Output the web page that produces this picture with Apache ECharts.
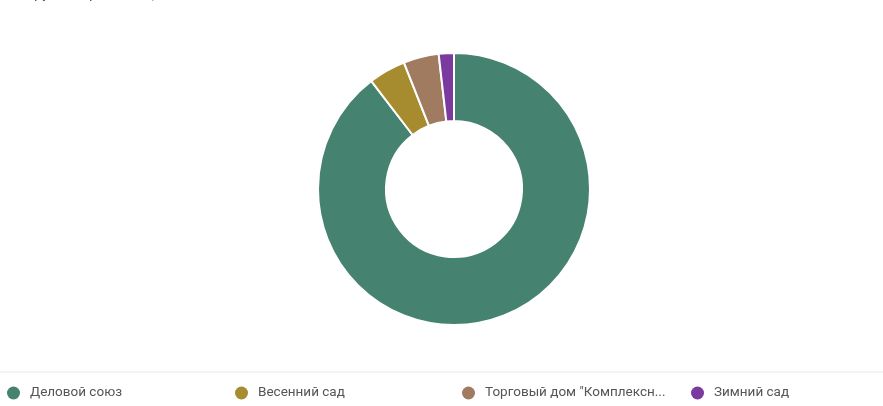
<!DOCTYPE html>
<html>
<head>
<meta charset="utf-8">
<script src="https://cdn.jsdelivr.net/npm/echarts@6/dist/echarts.min.js"></script>
<style>html,body{margin:0;padding:0;background:#fff}#c{width:883px;height:406px}</style>
</head>
<body>
<div id="c"></div>
<script>
const names = ['Деловой союз', 'Весенний сад', 'Торговый дом "Комплексные решения"', 'Зимний сад'];
const values = [89.6, 4.4, 4.2, 1.8];
const colors = ['#468270', '#a68b2f', '#a07b60', '#7b3a9f'];
const legendLeft = [7, 235, 462, 691];
const maxChars = 23;

const chart = echarts.init(document.getElementById('c'));
const legends = names.map((n, i) => ({
  data: [n],
  left: legendLeft[i],
  top: 386,
  padding: 0,
  orient: 'horizontal',
  icon: 'circle',
  itemWidth: 13,
  itemHeight: 13,
  itemGap: 0,
  itemStyle: { borderWidth: 0 },
  selectedMode: false,
  formatter: s => s.length > maxChars ? s.slice(0, maxChars) + '...' : s,
  textStyle: { color: '#555', fontSize: 13.5, fontFamily: 'Roboto', padding: [0, 0, 0, 5] }
}));
chart.setOption({
  animation: false,
  color: colors,
  legend: legends,
  graphic: [
    { type: 'rect', shape: { x: 0, y: 371, width: 883, height: 2 }, style: { fill: '#f3f3f3' }, silent: true },
    { type: 'text', left: 13, top: -13, style: { text: 'Выручка, организации', fill: '#555', font: '15px Roboto' }, silent: true },
    { type: 'text', left: 190, top: -12, style: { text: '▾', fill: '#4caf50', font: '13px Roboto' }, silent: true }
  ],
  series: [{
    type: 'pie',
    center: [454, 189],
    radius: [68, 136],
    startAngle: 90,
    clockwise: true,
    label: { show: false },
    labelLine: { show: false },
    itemStyle: { borderColor: '#fff', borderWidth: 2 },
    emphasis: { disabled: true },
    data: names.map((n, i) => ({ name: n, value: values[i] }))
  }]
});
</script>
</body>
</html>
